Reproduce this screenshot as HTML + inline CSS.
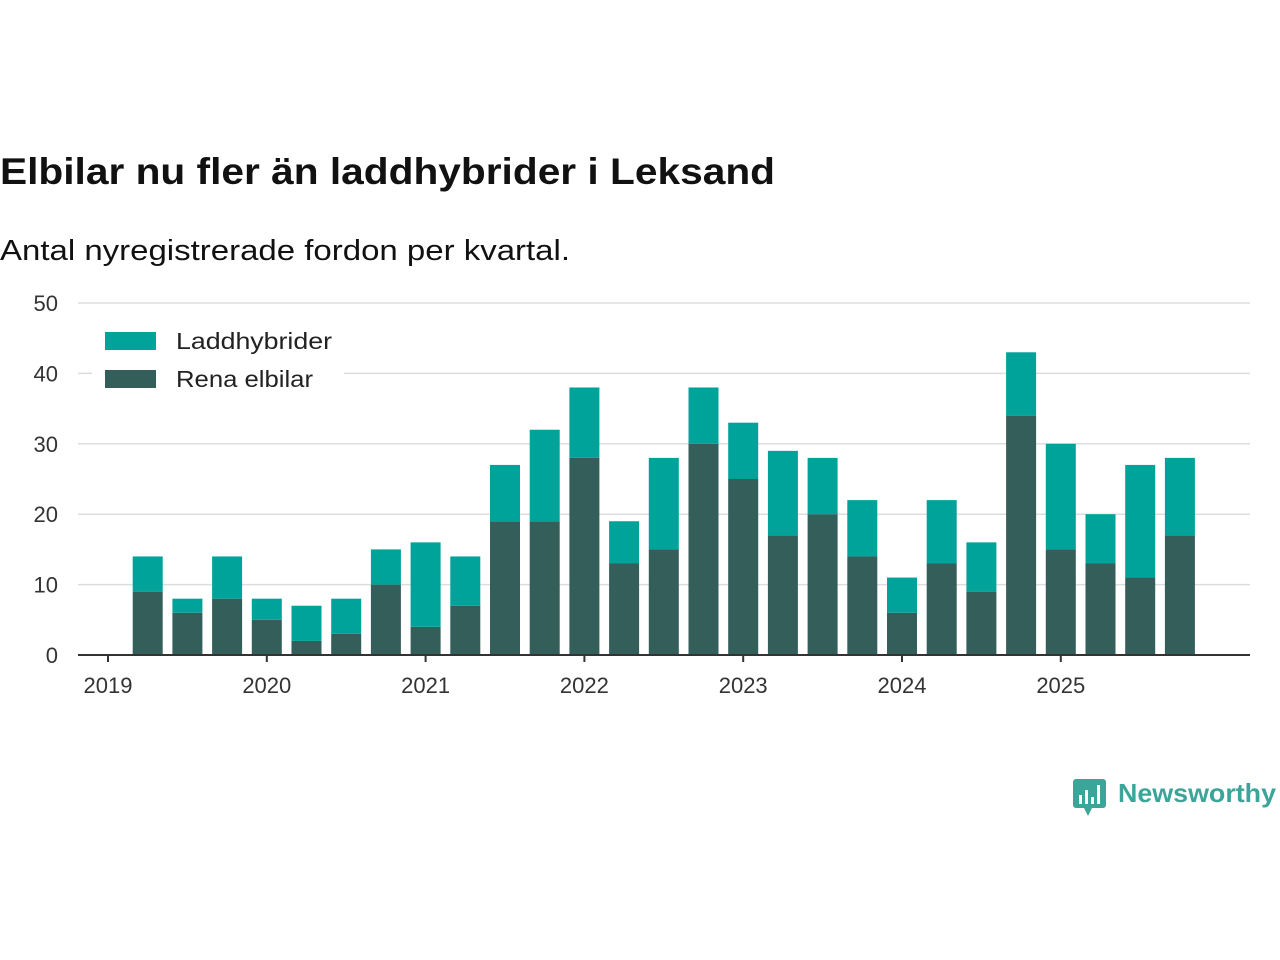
<!DOCTYPE html>
<html><head><meta charset="utf-8"><style>
body{margin:0;background:#fff;font-family:"Liberation Sans",sans-serif;}
#wrap{position:relative;width:1280px;height:960px;overflow:hidden}
</style></head><body>
<div id="wrap">
<svg id="chart" width="1280" height="960">
<text x="0" y="184" font-size="37" font-weight="bold" fill="#111" textLength="775" lengthAdjust="spacingAndGlyphs">Elbilar nu fler än laddhybrider i Leksand</text>
<text x="0" y="260" font-size="29" fill="#111" textLength="570" lengthAdjust="spacingAndGlyphs">Antal nyregistrerade fordon per kvartal.</text>
<g id="grid"></g><g id="bars"></g><g id="axes"></g>
<g>
<rect x="92" y="322" width="252" height="80" fill="#fff"/>
<rect x="105" y="332" width="51" height="18" fill="#00a39a"/>
<text x="176" y="349" font-size="23" fill="#222" textLength="156" lengthAdjust="spacingAndGlyphs">Laddhybrider</text>
<rect x="105" y="370" width="51" height="18" fill="#335e59"/>
<text x="176" y="387" font-size="23" fill="#222" textLength="137" lengthAdjust="spacingAndGlyphs">Rena elbilar</text>
</g>
<g>
<rect x="1073" y="779" width="33" height="29" rx="3" fill="#3ba59a"/>
<polygon points="1084,808 1092,808 1088,816" fill="#3ba59a"/>
<rect x="1079" y="795" width="3" height="9" fill="#fff"/><rect x="1085" y="790" width="3" height="14" fill="#fff"/><rect x="1091" y="797" width="3" height="7" fill="#fff"/><rect x="1097" y="785" width="3" height="19" fill="#fff"/>
<text x="1118" y="802" font-size="26" font-weight="bold" fill="#3ba59a" textLength="158" lengthAdjust="spacingAndGlyphs">Newsworthy</text>
</g>
</svg>
</div>
<script>
const quarters=["2019Q2","2019Q3","2019Q4","2020Q1","2020Q2","2020Q3","2020Q4","2021Q1","2021Q2","2021Q3","2021Q4","2022Q1","2022Q2","2022Q3","2022Q4","2023Q1","2023Q2","2023Q3","2023Q4","2024Q1","2024Q2","2024Q3","2024Q4","2025Q1","2025Q2","2025Q3","2025Q4"];
const elbilar=[9,6,8,5,2,3,10,4,7,19,19,28,13,15,30,25,17,20,14,6,13,9,34,15,13,11,17];
const laddhybrider=[5,2,6,3,5,5,5,12,7,8,13,10,6,13,8,8,12,8,8,5,9,7,9,15,7,16,11];
const yTicks=[0,10,20,30,40,50];
const xYears=[2019,2020,2021,2022,2023,2024,2025];
const NS="http://www.w3.org/2000/svg";
const y0=655,pxPer=7.04,x2019=108,qW=39.7;
function yS(v){return y0-v*pxPer;}
function xQ(q){const yr=+q.slice(0,4),n=+q.slice(5);return x2019+((yr-2019)*4+(n-1))*qW;}
function xY(yr){return x2019+(yr-2019)*4*qW;}
function mk(t,a,p){const e=document.createElementNS(NS,t);for(const k in a)e.setAttribute(k,a[k]);p.appendChild(e);return e;}
const grid=document.getElementById('grid'),bars=document.getElementById('bars'),axes=document.getElementById('axes');
yTicks.forEach(v=>{
 if(v>0){const l=mk('line',{x1:78,x2:1250,y1:yS(v),y2:yS(v),stroke:'#ddd','stroke-width':1.5},grid);
 
 }
 const t=mk('text',{x:58,y:yS(v)+8,'font-size':22,fill:'#333','text-anchor':'end'},axes);t.textContent=v;
 
 
});
quarters.forEach((q,i)=>{
 const cx=xQ(q),w=30;
 const r1=mk('rect',{x:cx-w/2,y:yS(elbilar[i]),width:w,height:y0-yS(elbilar[i]),fill:'#335e59'},bars);
 
 
 const tot=elbilar[i]+laddhybrider[i];
 const r2=mk('rect',{x:cx-w/2,y:yS(tot),width:w,height:yS(elbilar[i])-yS(tot),fill:'#00a39a'},bars);
 
 
});
const ax=mk('line',{x1:78,x2:1250,y1:y0,y2:y0,stroke:'#333','stroke-width':2},axes);


xYears.forEach(yr=>{
 const x=xY(yr);
 const tk=mk('line',{x1:x,x2:x,y1:y0,y2:y0+7,stroke:'#333','stroke-width':2},axes);
 
 
 const t=mk('text',{x:x,y:693,'font-size':22,fill:'#333','text-anchor':'middle'},axes);t.textContent=yr;
 
 
});
</script>
</body></html>
